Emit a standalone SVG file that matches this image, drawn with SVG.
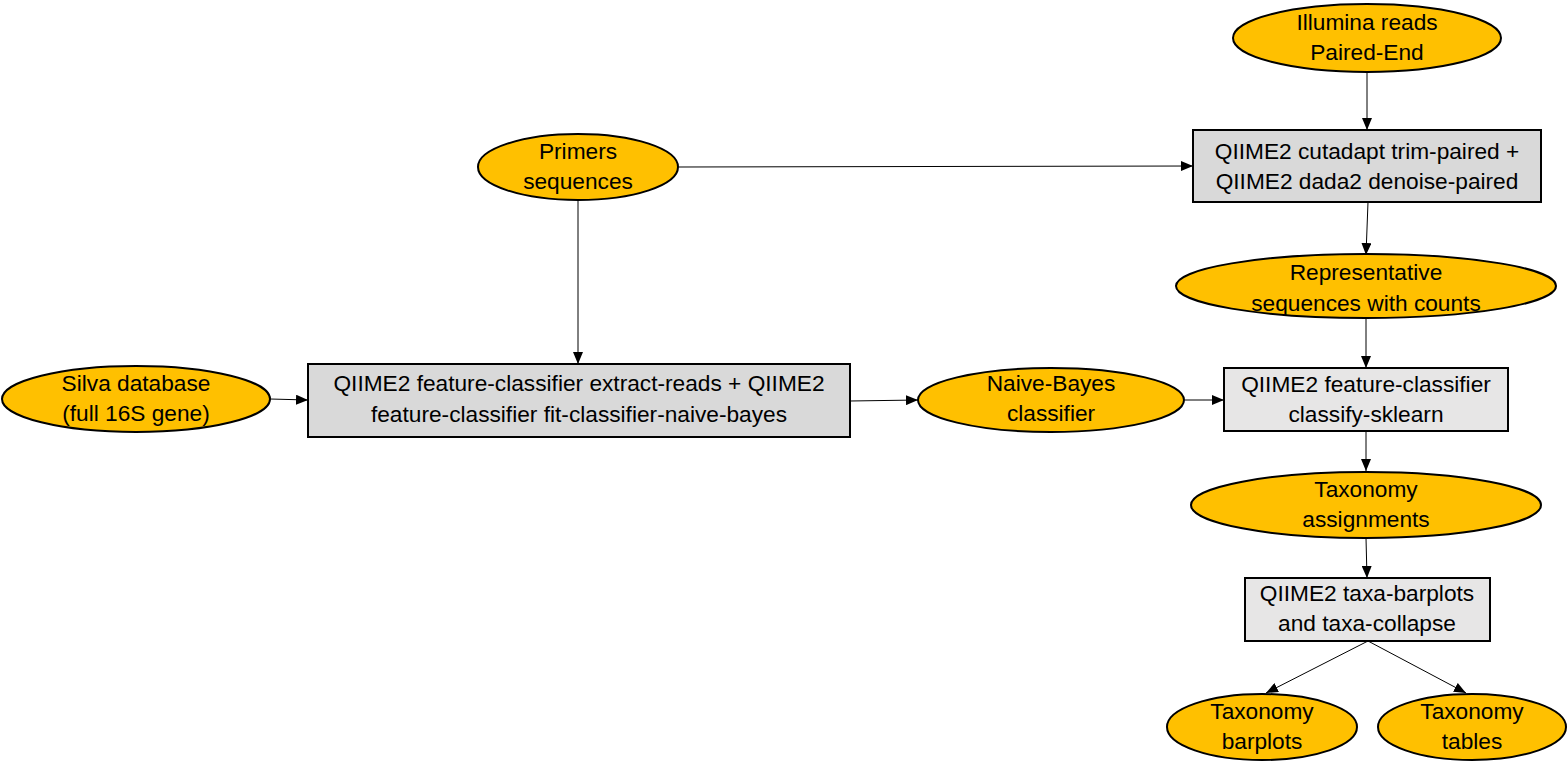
<svg xmlns="http://www.w3.org/2000/svg" width="1568" height="773" viewBox="0 0 1568 773">
<defs>
<style>
.ell{fill:#ffc000;stroke:#000;stroke-width:2}
.boxd{fill:#d9d9d9;stroke:#000;stroke-width:2}
.boxl{fill:#e7e6e6;stroke:#000;stroke-width:2}
.t{font-family:"Liberation Sans",Arial,sans-serif;font-size:22.7px;fill:#000;text-anchor:middle}
.c{stroke:#000;stroke-width:1;fill:none;marker-end:url(#ah)}
</style>
<marker id="ah" markerWidth="12" markerHeight="10" refX="12" refY="5" orient="auto" markerUnits="userSpaceOnUse">
<path d="M0,0 L12,5 L0,10 Z" fill="#000"/>
</marker>
</defs>
<rect width="1568" height="773" fill="#fff"/>
<g id="connectors">
<line class="c" x1="1367" y1="72" x2="1367" y2="130"/>
<line class="c" x1="679" y1="167" x2="1193" y2="166"/>
<line class="c" x1="578" y1="200" x2="578" y2="364"/>
<line class="c" x1="1368" y1="202" x2="1366" y2="255"/>
<line class="c" x1="270" y1="399" x2="308" y2="400"/>
<line class="c" x1="850" y1="401" x2="918" y2="400"/>
<line class="c" x1="1185" y1="400" x2="1224" y2="400"/>
<line class="c" x1="1366" y1="318" x2="1366" y2="368"/>
<line class="c" x1="1366" y1="431" x2="1366" y2="471"/>
<line class="c" x1="1366" y1="538" x2="1367" y2="578"/>
<line class="c" x1="1368" y1="641" x2="1266" y2="693"/>
<line class="c" x1="1368" y1="641" x2="1466" y2="693"/>
</g>
<g id="illumina">
<ellipse class="ell" cx="1367" cy="38" rx="134" ry="34"/>
<text class="t" x="1367" y="30">Illumina reads</text>
<text class="t" x="1367" y="60">Paired-End</text>
</g>
<g id="cutadapt">
<rect class="boxd" x="1193" y="130" width="348" height="72"/>
<text class="t" x="1367" y="159">QIIME2 cutadapt trim-paired +</text>
<text class="t" x="1367" y="189">QIIME2 dada2 denoise-paired</text>
</g>
<g id="primers">
<ellipse class="ell" cx="578" cy="167" rx="100" ry="33"/>
<text class="t" x="578" y="159">Primers</text>
<text class="t" x="578" y="189">sequences</text>
</g>
<g id="representative">
<ellipse class="ell" cx="1366" cy="286" rx="190" ry="32"/>
<text class="t" x="1366" y="280">Representative</text>
<text class="t" x="1366" y="311">sequences with counts</text>
</g>
<g id="silva">
<ellipse class="ell" cx="136" cy="399" rx="134" ry="33"/>
<text class="t" x="136" y="391">Silva database</text>
<text class="t" x="136" y="421">(full 16S gene)</text>
</g>
<g id="extract">
<rect class="boxd" x="308" y="364" width="542" height="73"/>
<text class="t" x="579" y="391">QIIME2 feature-classifier extract-reads + QIIME2</text>
<text class="t" x="579" y="422">feature-classifier fit-classifier-naive-bayes</text>
</g>
<g id="naivebayes">
<ellipse class="ell" cx="1051" cy="400" rx="133" ry="32"/>
<text class="t" x="1051" y="391">Naive-Bayes</text>
<text class="t" x="1051" y="421">classifier</text>
</g>
<g id="classify">
<rect class="boxl" x="1224" y="368" width="284" height="63"/>
<text class="t" x="1366" y="392">QIIME2 feature-classifier</text>
<text class="t" x="1366" y="422">classify-sklearn</text>
</g>
<g id="taxonomy">
<ellipse class="ell" cx="1366" cy="505" rx="175" ry="33"/>
<text class="t" x="1366" y="497">Taxonomy</text>
<text class="t" x="1366" y="527">assignments</text>
</g>
<g id="taxa">
<rect class="boxl" x="1245" y="578" width="245" height="63"/>
<text class="t" x="1367" y="601">QIIME2 taxa-barplots</text>
<text class="t" x="1367" y="631">and taxa-collapse</text>
</g>
<g id="barplots">
<ellipse class="ell" cx="1262" cy="727" rx="95" ry="33"/>
<text class="t" x="1262" y="719">Taxonomy</text>
<text class="t" x="1262" y="749">barplots</text>
</g>
<g id="tables">
<ellipse class="ell" cx="1472" cy="727" rx="94" ry="33"/>
<text class="t" x="1472" y="719">Taxonomy</text>
<text class="t" x="1472" y="749">tables</text>
</g>
</svg>
